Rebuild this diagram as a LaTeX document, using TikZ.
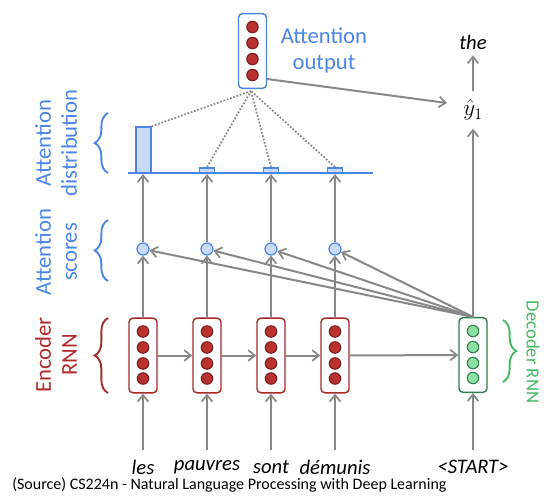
\documentclass[tikz,border=0pt]{standalone}
\usepackage{fontspec}
\setmainfont{Carlito}
\usetikzlibrary{arrows.meta,decorations.pathreplacing}
\definecolor{myblue}{HTML}{4A86E8}
\definecolor{lblue}{HTML}{C9DAF8}
\definecolor{boxred}{HTML}{A52A2A}
\definecolor{cellred}{HTML}{B83232}
\definecolor{cellredd}{HTML}{7A1A1A}
\definecolor{boxgreen}{HTML}{2E7D4A}
\definecolor{cellgreen}{HTML}{8BE0A4}
\definecolor{txtgreen}{HTML}{45B862}
\definecolor{txtred}{HTML}{B02A2A}
\definecolor{arrgray}{HTML}{888888}
\begin{document}
\begin{tikzpicture}[x=0.75pt,y=-0.75pt,
  vecbox/.style={draw=#1,fill=white,rounded corners=3pt,line width=1.1pt,minimum width=21pt,minimum height=56pt,inner sep=0pt},
  cell/.style={circle,inner sep=0pt,minimum size=8.6pt,line width=0.8pt},
  score/.style={circle,draw=myblue,fill=lblue,line width=0.9pt,inner sep=0pt,minimum size=9pt},
  bar/.style={draw=myblue,fill=lblue,line width=1.1pt,inner sep=0pt},
  arr/.style={draw=arrgray,line width=1.5pt,-{Straight Barb[length=5pt,width=8pt,line width=1.3pt]}},
  dots/.style={draw=arrgray,line width=1.3pt,dash pattern=on 1.3pt off 1.3pt},
  word/.style={font=\itshape\fontsize{15.5}{18}\selectfont,inner sep=0pt},
  lab/.style={font=\fontsize{17}{19.5}\selectfont,align=center,inner sep=0pt},
  brc/.style={decorate,decoration={brace,amplitude=10pt},line width=1.4pt}
]
\useasboundingbox (0,0) rectangle (552,502);

% encoder / decoder boxes
\foreach \i/\x in {1/143,2/207,3/271,4/335}{
  \node[vecbox=boxred] (e\i) at (\x,355.5) {};
  \foreach \k/\dy in {a/-24,b/-8,c/8,d/23}
    \node[cell,fill=cellred,draw=cellredd] (e\i\k) at (\x,355.5+\dy) {};
}
\node[vecbox=boxgreen] (dec) at (473,355) {};
\foreach \k/\dy in {a/-24,b/-8,c/8,d/23}
  \node[cell,fill=cellgreen,draw=boxgreen] (dec\k) at (473,355+\dy) {};

% attention output box
\node[vecbox=myblue] (ao) at (252.5,51) {};
\foreach \k/\dy in {a/-24,b/-8,c/8,d/24}
  \node[cell,fill=cellred,draw=cellredd] (ao\k) at (252.5,51+\dy) {};

% score circles
\foreach \i/\x in {1/143,2/207,3/271,4/335}
  \node[score] (s\i) at (\x,249) {};

% distribution line and bars
\coordinate (dl) at (128,173);
\coordinate (dr) at (373,173);
\draw[myblue,line width=1.5pt] (dl) -- (dr);
\node[bar,minimum width=11pt,minimum height=34.5pt] (b1) at (143.5,150) {};
\foreach \i/\x in {2/207,3/271,4/335}
  \node[bar,minimum width=11.5pt,minimum height=4pt] (b\i) at (\x,170.5) {};
\foreach \i/\x in {1/143,2/207,3/271,4/335}
  \coordinate (d\i) at (\x,174);

% inputs
\foreach \i/\x/\w in {1/143/les,2/207/pauvres,3/271/sont,4/335/démunis}{
  \coordinate (in\i) at (\x,450);
  \node[word] (w\i) at (\x,467) {\w};
  \draw[arr] (in\i) -- (e\i.south);
  \draw[arr] (e\i.north) -- (s\i.south);
  \draw[arr] (s\i.north) -- (d\i);
}
\coordinate (in5) at (473,450);
\node[word] (w5) at (473,467) {<START>};
\draw[arr] (in5) -- (dec.south);

% recurrent arrows
\draw[arr] (e1.east) -- (e2.west);
\draw[arr] (e2.east) -- (e3.west);
\draw[arr] (e3.east) -- (e4.west);
\draw[arr] (e4.east) -- (dec.west);

% decoder to scores
\foreach \i in {1,2,3,4}
  \draw[arr] (dec.north) -- (s\i);

% output
\node[inner sep=0pt,font=\fontsize{17}{20}\selectfont] (yhat) at (473,110) {$\hat{y}_1$};
\node[inner sep=0pt,font=\itshape\fontsize{15.5}{18}\selectfont] (the) at (473,42) {the};
\draw[arr,shorten >=14pt] (dec.north) -- (yhat.center);
\draw[arr,shorten <=14pt,shorten >=10pt] (yhat.center) -- (the.center);
\coordinate (aoR) at (267,79);
\coordinate (yin) at (447,103);
\draw[arr] (aoR) -- (yin);

% dotted attention lines
\coordinate (aoB) at (251,91);
\draw[dots] (b1.north east) -- (aoB);
\foreach \i in {2,3,4}
  \draw[dots] (b\i.north) -- (aoB);

% labels
\node[lab,text=myblue] (ltop) at (324,50) {Attention\\output};
\node[lab,text=myblue,rotate=90] (ldist) at (56,143) {Attention\\distribution};
\node[lab,text=myblue,rotate=90] (lscore) at (56,252) {Attention\\scores};
\node[lab,text=txtred,rotate=90] (lenc) at (56,355) {Encoder\\RNN};
\node[lab,text=txtgreen,rotate=-90,font=\fontsize{14}{16}\selectfont] (ldec) at (533,352) {Decoder RNN};

% braces
\draw[brc,myblue] (108,173) -- (108,113);
\draw[brc,myblue] (108,281) -- (108,220);
\draw[brc,boxred] (108,393) -- (108,318);
\draw[brc,txtgreen] (503,320) -- (503,382);

% source
\node[anchor=west,inner sep=0pt,font=\fontsize{12}{14}\selectfont] (src) at (12,485) {(Source) CS224n - Natural Language Processing with Deep Learning};
\end{tikzpicture}
\end{document}
